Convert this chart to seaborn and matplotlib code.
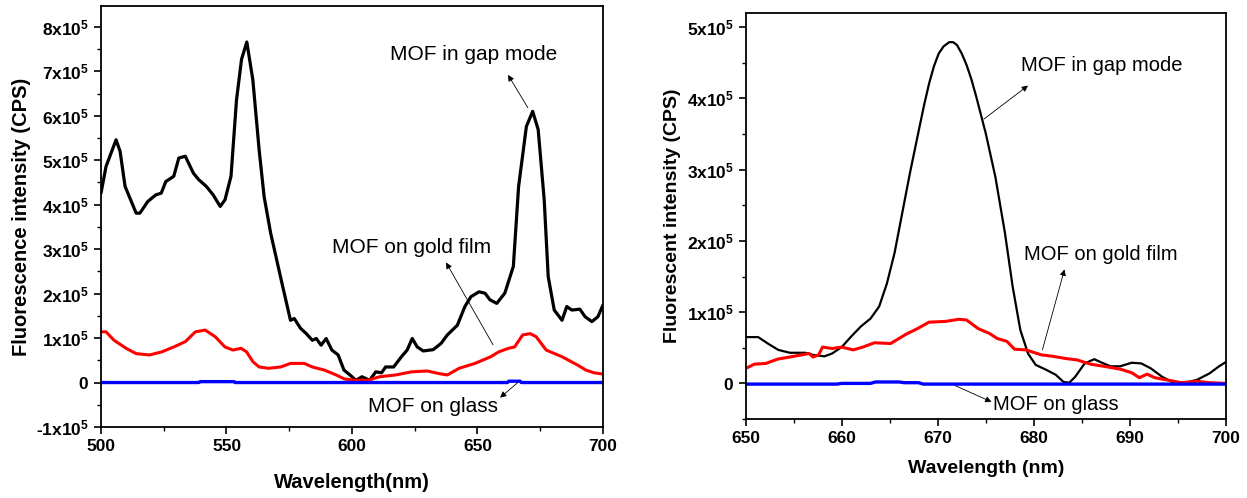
import numpy as np
import pandas as pd
import matplotlib
matplotlib.use("Agg")
import matplotlib.pyplot as plt
import seaborn as sns
from matplotlib.ticker import MultipleLocator, FixedLocator, FixedFormatter

# ---------------- data (intensity in units of 1e5 CPS) ----------------
# Left panel
gap_left_x = [500, 502, 506, 507.6, 509.6, 514, 515.5, 518.6, 521.8, 524, 525.8, 529, 531, 533.6,
              536.8, 539, 542, 544.7, 547.5, 549.4, 551.8, 554, 556, 558.1, 560.5, 563, 565, 567.6,
              570, 572.4, 575.5, 577, 579.5, 581.8, 584.2, 585.8, 587.7, 589.7, 592, 594.5, 596.8,
              599.2, 601.6, 604, 607, 609.5, 611.8, 613.4, 616.6, 619.7, 622, 624, 626, 628.4, 632.4,
              635.5, 638, 642, 645, 647.4, 650.6, 653, 655, 657.7, 660.9, 664.3, 666.4, 669.5, 672,
              674.2, 676.6, 678.2, 680.6, 683.7, 685.6, 687.6, 690.8, 692.9, 695.6, 698, 700]
gap_left_y = [4.26, 4.86, 5.46, 5.2, 4.41, 3.81, 3.81, 4.07, 4.22, 4.26, 4.52, 4.64, 5.05, 5.09,
              4.71, 4.56, 4.41, 4.22, 3.96, 4.11, 4.64, 6.36, 7.27, 7.66, 6.81, 5.24, 4.18, 3.36,
              2.76, 2.16, 1.40, 1.44, 1.22, 1.10, 0.95, 0.99, 0.84, 0.99, 0.73, 0.62, 0.28,
              0.17, 0.05, 0.13, 0.05, 0.24, 0.22, 0.35, 0.35, 0.58, 0.73, 0.99, 0.80, 0.71, 0.74,
              0.88, 1.07, 1.29, 1.71, 1.93, 2.04, 2.01, 1.86, 1.78, 2.01, 2.61, 4.41, 5.76, 6.10,
              5.69, 4.11, 2.38, 1.63, 1.40, 1.71, 1.63, 1.65, 1.48, 1.37, 1.48, 1.74]

gold_left_x = [500, 502, 505.2, 510, 514, 519.4, 524.2, 529, 533.6, 537.6, 541.5, 545.5, 549.4,
               552.6, 555.8, 558, 560.5, 563, 566.8, 571.6, 575.5, 581, 584.2, 589, 593.7, 597,
               601.6, 606.3, 611, 617.4, 623.7, 630, 634.8, 638, 642.7, 649, 655.3, 658.5, 662.4,
               664.8, 668, 671, 673.4, 677.4, 683.7, 690, 693.2, 696.4, 700]
gold_left_y = [1.14, 1.14, 0.95, 0.77, 0.65, 0.62, 0.69, 0.80, 0.92, 1.14, 1.18, 1.03, 0.80,
               0.73, 0.77, 0.69, 0.47, 0.35, 0.32, 0.35, 0.43, 0.43, 0.35, 0.28, 0.17, 0.08,
               0.05, 0.05, 0.13, 0.17, 0.24, 0.26, 0.20, 0.17, 0.32, 0.43, 0.58, 0.69, 0.77,
               0.80, 1.07, 1.10, 1.03, 0.73, 0.58, 0.39, 0.28, 0.22, 0.19]

glass_left_x = [500, 539, 539.5, 553, 553.5, 662, 662.5, 667, 667.5, 700]
glass_left_y = [0.0, 0.0, 0.02, 0.02, 0.0, 0.0, 0.03, 0.03, 0.0, 0.0]

# Right panel
gap_right_x = [650, 651.3, 652.3, 653.4, 654.6, 656.2, 657, 658.2, 659, 660, 661, 662, 663, 663.9,
               664.7, 665.5, 666.3, 667.1, 668.1, 668.6, 669.1, 669.6, 670.1, 670.6, 671.2, 671.6,
               672, 672.5, 673, 673.5, 674, 675, 676,
               677, 677.8, 678.6, 679.4, 680.2, 681.3, 682.3, 683.1, 683.7, 684.3, 685.3, 686.3,
               687.1, 688, 689, 690.2, 691.2, 692.2, 693.4, 694.6, 695.8, 697, 698.3, 699.3, 700]
gap_right_y = [0.65, 0.65, 0.56, 0.47, 0.43, 0.43, 0.40, 0.38, 0.42, 0.51, 0.66, 0.80, 0.91, 1.08,
               1.40, 1.83, 2.39, 2.95, 3.60, 3.92, 4.21, 4.45, 4.63, 4.73, 4.79, 4.79,
               4.75, 4.63, 4.47, 4.27, 4.03, 3.51, 2.90,
               2.11, 1.36, 0.75, 0.42, 0.26, 0.19, 0.12, 0.02, 0.01, 0.09, 0.28, 0.34,
               0.29, 0.24, 0.24, 0.29, 0.28, 0.21, 0.09, 0.01, 0.01, 0.05, 0.14, 0.24, 0.30]

gold_right_x = [650, 650.9, 652.1, 653.3, 655, 656.6, 657, 657.6, 658, 659, 660, 661.2, 662.2,
                663.4, 665.1, 666.7, 667.9, 669.1, 670.8, 672.2, 673, 674.2, 675.4, 676.2, 677.2,
                678, 679.2, 680.8, 682, 683.3, 684.5, 685.9, 687.3, 689, 690.2, 691, 691.8, 692.6,
                693.8, 695.4, 697, 698.3, 700]
gold_right_y = [0.21, 0.27, 0.28, 0.34, 0.38, 0.42, 0.37, 0.40, 0.51, 0.49, 0.51, 0.47, 0.51,
                0.57, 0.56, 0.69, 0.77, 0.86, 0.87, 0.90, 0.89, 0.77, 0.70, 0.63, 0.59,
                0.48, 0.47, 0.40, 0.38, 0.35, 0.33, 0.27, 0.24, 0.20, 0.15, 0.08, 0.13, 0.08,
                0.05, 0.01, 0.03, 0.01, 0.0]

glass_right_x = [650, 659.5, 660, 663, 663.5, 666, 666.5, 668, 668.5, 700]
glass_right_y = [-0.01, -0.01, 0.0, 0.0, 0.02, 0.02, 0.01, 0.01, -0.01, -0.01]

left_yticks = [-1, 0, 1, 2, 3, 4, 5, 6, 7, 8]
right_yticks = [0, 1, 2, 3, 4, 5]
label_gap = "MOF in gap mode"
label_gold = "MOF on gold film"
label_glass = "MOF on glass"

# ---------------- style ----------------
sns.set_style("ticks")
plt.rcParams['font.family'] = ['Liberation Sans', 'DejaVu Sans']
plt.rcParams['mathtext.fontset'] = 'custom'
plt.rcParams['mathtext.rm'] = 'Liberation Sans'
plt.rcParams['mathtext.bf'] = 'Liberation Sans:bold'
plt.rcParams['text.color'] = 'black'
plt.rcParams['axes.labelcolor'] = 'black'
plt.rcParams['xtick.color'] = 'black'
plt.rcParams['ytick.color'] = 'black'
plt.rcParams['axes.edgecolor'] = 'black'

fig = plt.figure(figsize=(12.47, 4.98), dpi=100)
axL = fig.add_axes([0.081, 0.1426, 0.4025, 0.8454])
axR = fig.add_axes([0.598, 0.1586, 0.385, 0.8154])


def fmt(v):
    if v == 0:
        return r'$\mathbf{0}$'
    if v < 0:
        return r'-$\mathbf{%dx10^{5}}$' % (-v)
    return r'$\mathbf{%dx10^{5}}$' % v


def draw(ax, gx, gy, ox, oy, sx, sy, lw_black):
    sns.lineplot(x=gx, y=gy, ax=ax, color='black', lw=lw_black, estimator=None, sort=False)
    sns.lineplot(x=ox, y=oy, ax=ax, color='#ff0000', lw=2.2, estimator=None, sort=False)
    sns.lineplot(x=sx, y=sy, ax=ax, color='#0000ff', lw=2.4, estimator=None, sort=False)


draw(axL, gap_left_x, gap_left_y, gold_left_x, gold_left_y, glass_left_x, glass_left_y, 2.3)
draw(axR, gap_right_x, gap_right_y, gold_right_x, gold_right_y, glass_right_x, glass_right_y, 1.6)

for ax in (axL, axR):
    for s in ax.spines.values():
        s.set_visible(True)
        s.set_color('black')
        s.set_linewidth(1.3)
    ax.tick_params(which='major', direction='out', length=5, width=1.2, labelsize=12.5,
                   top=False, right=False, colors='black')
    ax.tick_params(which='minor', direction='out', length=3, width=1.0, top=False, right=False)

axL.set_xlim(500, 700)
axL.set_ylim(-1, 8.47)
axL.xaxis.set_major_locator(MultipleLocator(50))
axL.xaxis.set_minor_locator(MultipleLocator(25))
axL.yaxis.set_major_locator(FixedLocator(left_yticks))
axL.yaxis.set_major_formatter(FixedFormatter([fmt(v) for v in left_yticks]))
axL.yaxis.set_minor_locator(MultipleLocator(0.5))
axL.set_xlabel("Wavelength(nm)", fontsize=14.5, fontweight='bold', labelpad=14)
axL.set_ylabel("Fluorescence intensity (CPS)", fontsize=14.5, fontweight='bold', labelpad=4)

axR.set_xlim(650, 700)
axR.set_ylim(-0.5, 5.2)
axR.xaxis.set_major_locator(MultipleLocator(10))
axR.xaxis.set_minor_locator(MultipleLocator(5))
axR.yaxis.set_major_locator(FixedLocator(right_yticks))
axR.yaxis.set_major_formatter(FixedFormatter([fmt(v) for v in right_yticks]))
axR.yaxis.set_minor_locator(MultipleLocator(0.5))
axR.set_xlabel("Wavelength (nm)", fontsize=14, fontweight='bold', labelpad=10)
axR.set_ylabel("Fluorescent intensity (CPS)", fontsize=14, fontweight='bold', labelpad=4)

for ax in (axL, axR):
    for lab in ax.get_xticklabels() + ax.get_yticklabels():
        lab.set_fontweight('bold')

arrow = dict(arrowstyle='-|>', color='black', lw=0.6, mutation_scale=9, shrinkA=0, shrinkB=0)

# Left annotations
axL.text(648.6, 7.37, label_gap, fontsize=15, ha='center', va='center', color='black')
axL.annotate('', xy=(662.2, 6.92), xytext=(670.1, 6.18), arrowprops=arrow)
axL.text(623.9, 3.03, label_gold, fontsize=15, ha='center', va='center', color='black')
axL.annotate('', xy=(637.5, 2.70), xytext=(656.2, 0.85), arrowprops=arrow)
axL.text(632.3, -0.54, label_glass, fontsize=15, ha='center', va='center', color='black')
axL.annotate('', xy=(659.0, -0.34), xytext=(666.1, 0.0), arrowprops=arrow)

# Right annotations
axR.text(687.1, 4.46, label_gap, fontsize=14.5, ha='center', va='center', color='black')
axR.annotate('', xy=(679.4, 4.18), xytext=(674.8, 3.71), arrowprops=arrow)
axR.text(687.0, 1.81, label_gold, fontsize=14.5, ha='center', va='center', color='black')
axR.annotate('', xy=(683.2, 1.60), xytext=(680.9, 0.47), arrowprops=arrow)
axR.text(682.3, -0.30, label_glass, fontsize=14.5, ha='center', va='center', color='black')
axR.annotate('', xy=(675.6, -0.26), xytext=(671.8, -0.03), arrowprops=arrow)

fig.savefig("out.png", dpi=100)
